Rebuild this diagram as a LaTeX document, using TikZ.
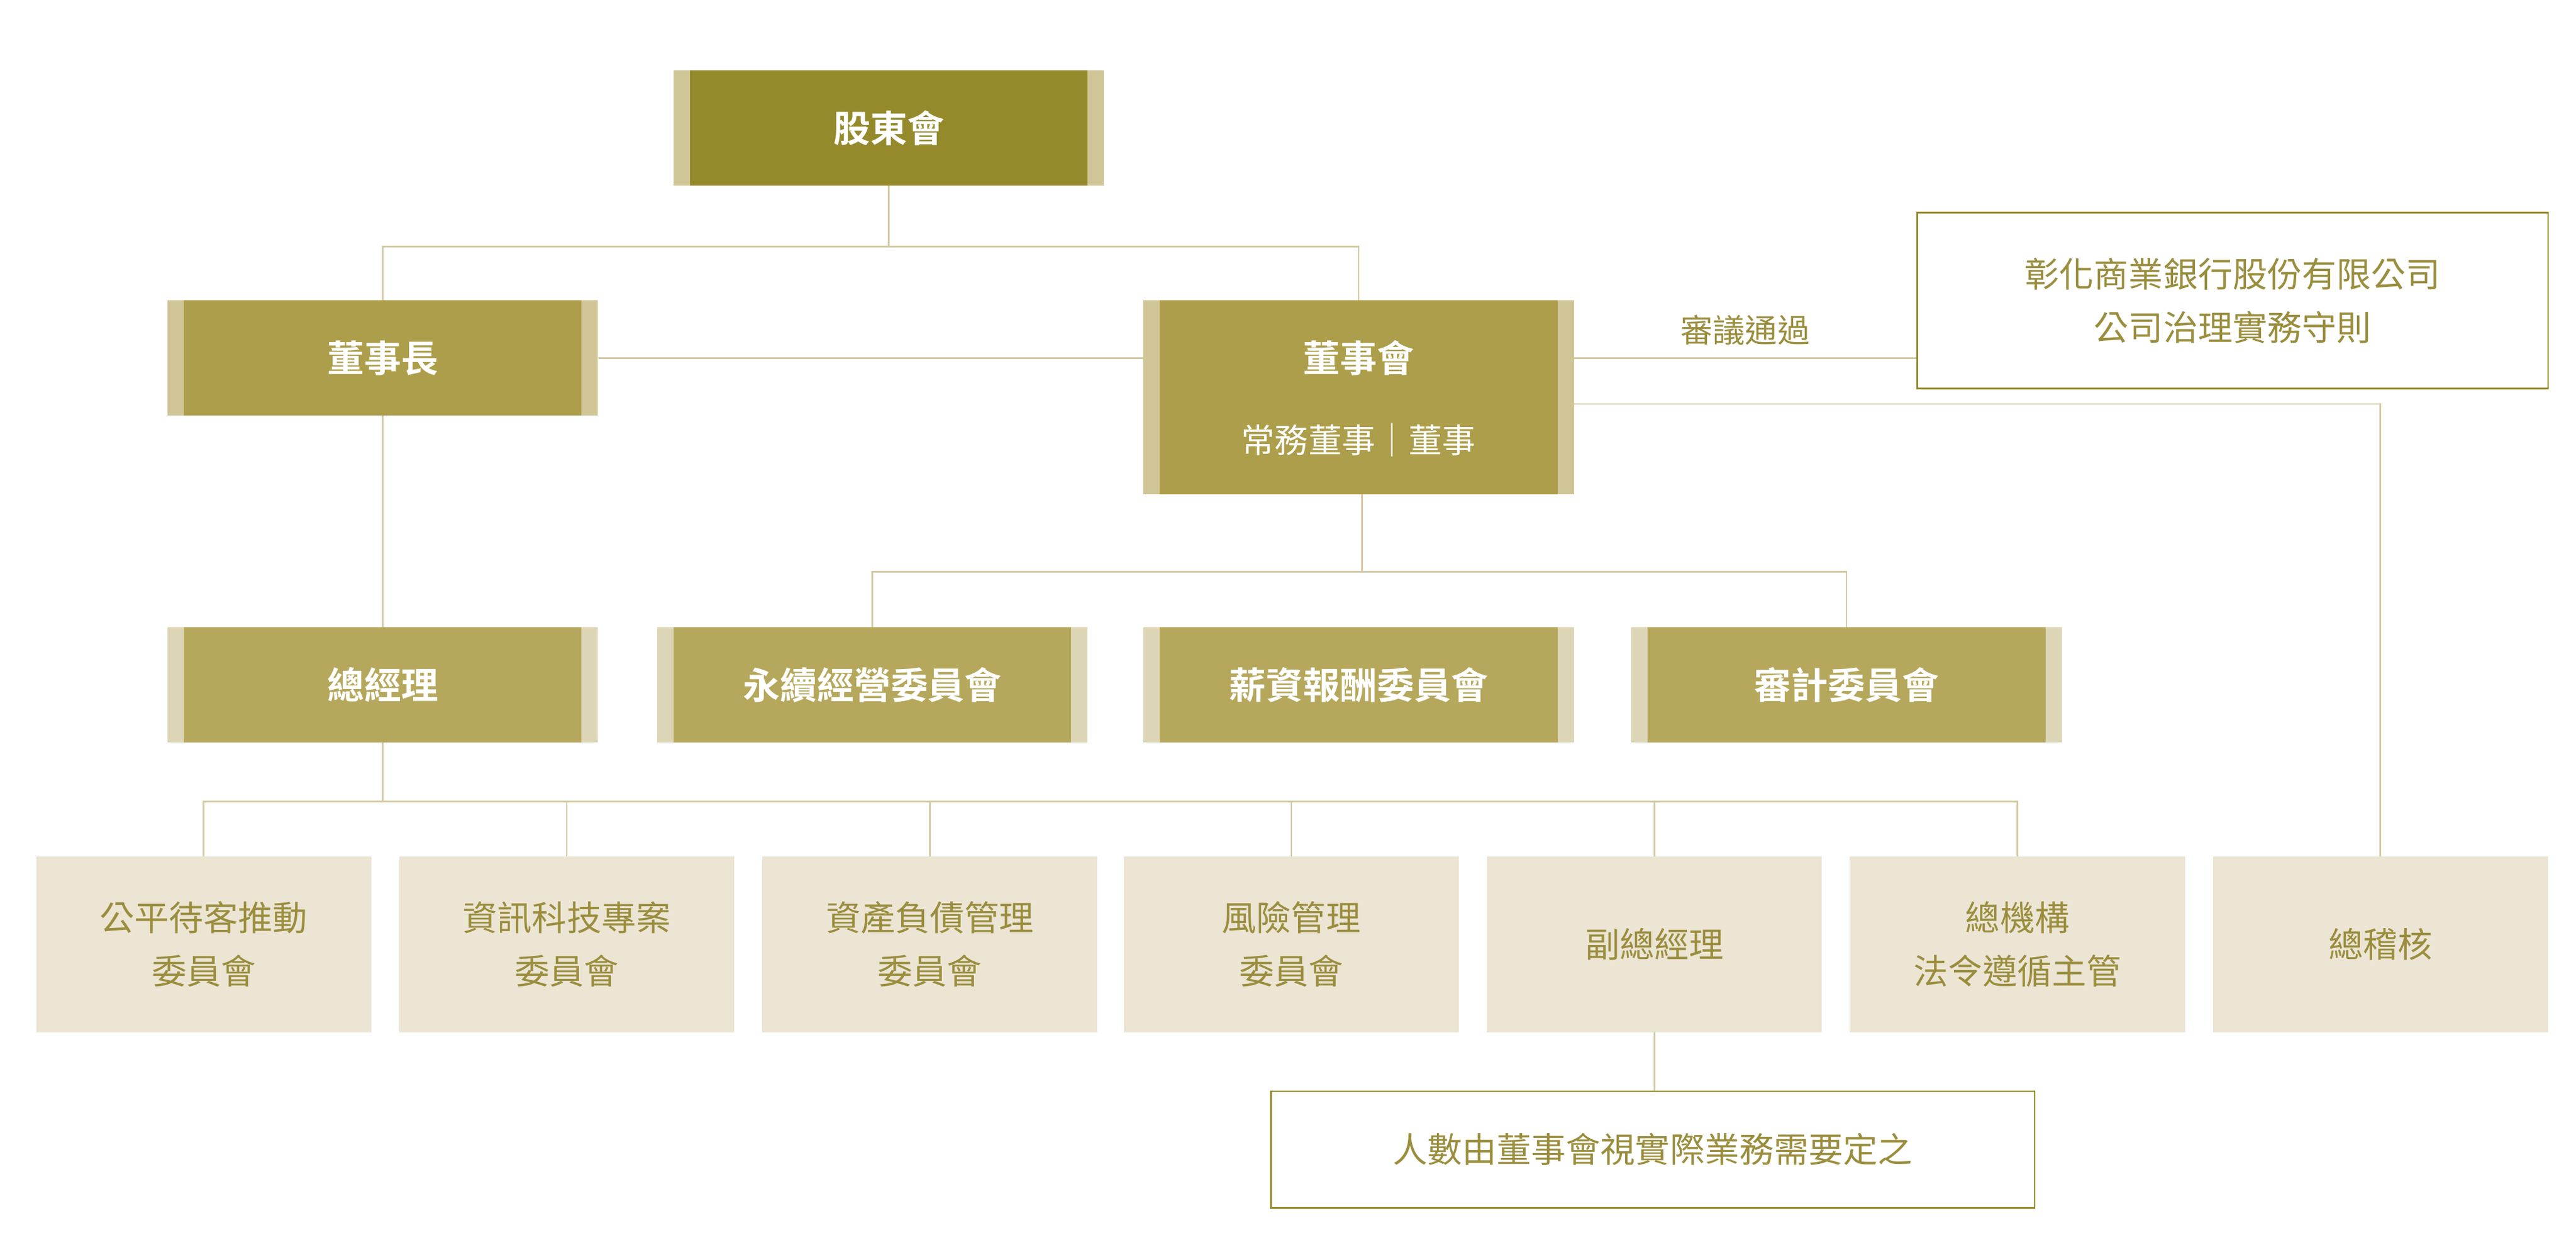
\documentclass[tikz,border=0pt]{standalone}
\usepackage{fontspec}
\setmainfont{Noto Sans CJK TC}
\newfontfamily\boldcjk{Noto Sans CJK TC Bold}
\definecolor{olivedk}{HTML}{948A2C}
\definecolor{olivemd}{HTML}{AC9E4A}
\definecolor{olivelt}{HTML}{B5A85C}
\definecolor{stripdk}{HTML}{CFC596}
\definecolor{striplt}{HTML}{DDD6B6}
\definecolor{paleunit}{HTML}{ECE5D4}
\definecolor{unittext}{HTML}{9A8E3E}
\definecolor{linkline}{HTML}{D4CBA6}
\tikzset{
  headbox/.style={draw=none, fill=#1, minimum width=26.2cm, minimum height=7cm,
    text=white, font=\boldcjk\fontsize{64}{80}\selectfont, align=center,
    path picture={\fill[#1] ([xshift=1cm]path picture bounding box.south west)
      rectangle ([xshift=-1cm]path picture bounding box.north east);}},
  unitbox/.style={fill=paleunit, minimum width=20.4cm, minimum height=10.7cm,
    text=unittext, font=\fontsize{60}{92}\selectfont, align=center},
  notebox/.style={draw=olivedk, line width=3pt, fill=white, text=unittext,
    font=\fontsize{60}{92}\selectfont, align=center},
  link/.style={draw=linkline, line width=3pt}
}
\begin{document}
\begin{tikzpicture}[x=0.1cm, y=-0.1cm]
\useasboundingbox (0,0) rectangle (1568,764);
% top
\node[headbox=olivedk, fill=stripdk] (gudong) at (541,78) {股東會};
\node[headbox=olivemd, fill=stripdk] (chair) at (233,218) {董事長};
\node[headbox=olivemd, fill=stripdk, minimum height=11.8cm] (board) at (827,242) {};
\node[text=white, font=\boldcjk\fontsize{64}{80}\selectfont] (boardt) at (827,218) {董事會};
\node[text=white, font=\fontsize{58}{70}\selectfont] (boards) at (827,268) {常務董事｜董事};
\node[notebox, minimum width=38.4cm, minimum height=10.7cm] (rules) at (1359,183) {彰化商業銀行股份有限公司\\公司治理實務守則};
% committees
\node[headbox=olivelt, fill=striplt] (gm) at (233,417) {總經理};
\node[headbox=olivelt, fill=striplt] (esg) at (531,417) {永續經營委員會};
\node[headbox=olivelt, fill=striplt] (pay) at (827,417) {薪資報酬委員會};
\node[headbox=olivelt, fill=striplt] (audit) at (1124,417) {審計委員會};
% units
\node[unitbox] (fair) at (124,575) {公平待客推動\\委員會};
\node[unitbox] (it) at (345,575) {資訊科技專案\\委員會};
\node[unitbox] (alm) at (566,575) {資產負債管理\\委員會};
\node[unitbox] (risk) at (786,575) {風險管理\\委員會};
\node[unitbox] (vp) at (1007,575) {副總經理};
\node[unitbox] (comp) at (1228,575) {總機構\\法令遵循主管};
\node[unitbox] (chief) at (1449,575) {總稽核};
\node[notebox, minimum width=46.5cm, minimum height=7.1cm] (count) at (1006,700) {人數由董事會視實際業務需要定之};
% links
\coordinate (j1) at (541,150);
\draw[link] (gudong.south) -- (j1);
\draw[link] (chair.north) |- (j1) -| (board.north);
\draw[link] (chair) -- (board.west |- chair);
\draw[link] (board.east |- chair) -- (rules.west |- chair)
  node[midway, above=0.6cm, text=unittext, font=\fontsize{56}{70}\selectfont] (pass) {審議通過};
\draw[link] ([yshift=-28*0.1cm]board.east |- chair) -| (chief.north);
\draw[link] (chair.south) -- (gm.north);
\coordinate (j2) at (829,348);
\draw[link] (board.south -| j2) -- (j2);
\draw[link] (esg.north) |- (j2) -| (audit.north);
\coordinate (j3) at (233,488);
\draw[link] (gm.south) -- (j3);
\draw[link] (fair.north) |- (j3) -| (comp.north);
\foreach \u in {it,alm,risk,vp} \draw[link] (\u.north) -- (\u.north |- j3);
\draw[link] (vp.south) -- (vp.south |- count.north);
\end{tikzpicture}
\end{document}
